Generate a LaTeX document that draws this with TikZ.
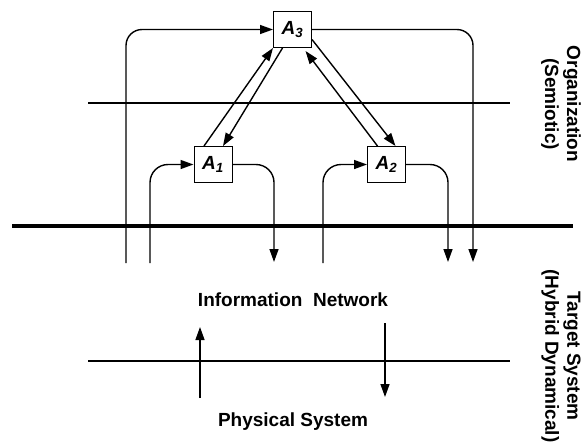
\documentclass[tikz,border=0pt]{standalone}
\usepackage{fontspec}
\setmainfont{Liberation Sans}
\usetikzlibrary{positioning, arrows.meta, calc}

\begin{document}
\begin{tikzpicture}[x=1pt, y=-1pt,
        agent/.style={draw, line width=1pt, fill=white, minimum width=38pt, minimum height=36pt, inner sep=0pt, font=\fontsize{19}{21}\selectfont\bfseries\itshape},
        flow/.style={line width=1.4pt, -{Triangle[length=13pt, width=9pt]}},
        txt/.style={font=\fontsize{19}{22}\selectfont\bfseries}]
        \useasboundingbox (0,0) rectangle (588,445);

        % Layer borders
        \draw[line width=1.2pt] (88,103) -- (510,103);
        \draw[line width=4pt] (12,226) -- (573,226);
        \draw[line width=1.2pt] (88,361) -- (510,361);

        % Agents
        \node[agent] (A3) at (292.5,29.5) {A\textsubscript{3}};
        \node[agent] (A1) at (213,164.5) {A\textsubscript{1}};
        \node[agent] (A2) at (386.5,164.5) {A\textsubscript{2}};

        % Ends in the network
        \coordinate (in3) at (126,263);
        \coordinate (out3) at (473,262);
        \coordinate (in1) at (150,263);
        \coordinate (out1) at (274,262);
        \coordinate (in2) at (323,263);
        \coordinate (out2) at (448,262);

        % Loops
        \draw[flow, rounded corners=16pt] (in3) |- (A3.west);
        \draw[flow, rounded corners=16pt] (A3.east) -| (out3);
        \draw[flow, rounded corners=18pt] (in1) |- (A1.west);
        \draw[flow, rounded corners=18pt] (A1.east) -| (out1);
        \draw[flow, rounded corners=18pt] (in2) |- (A2.west);
        \draw[flow, rounded corners=18pt] (A2.east) -| (out2);

        % Agent links
        \draw[flow] ([xshift=-9pt]A1.north) -- (A3.south west);
        \draw[flow] ([xshift=-10pt]A3.south) -- ([xshift=10pt]A1.north);
        \draw[flow] ([yshift=-10pt]A3.east) -- ([xshift=9pt]A2.north);
        \draw[flow] ([xshift=-9pt]A2.north) -- ([xshift=13pt, yshift=-3pt]A3.south);

        % Target system
        \node[txt] (net) at (293,300) {Information~ Network};
        \node[txt] (phys) at (293,422) {Physical System};
        \coordinate (sense0) at (200,398);
        \coordinate (sense1) at (200,327);
        \coordinate (act0) at (385,323);
        \coordinate (act1) at (385,397);
        \draw[flow] (sense0) -- (sense1);
        \draw[flow] (act0) -- (act1);

        % Side labels
        \node[txt, rotate=-90, align=center] (org) at (561,104) {Organization\\(Semiotic)};
        \node[txt, rotate=-90, align=center] (tgt) at (561,356) {Target System\\(Hybrid Dynamical)};
\end{tikzpicture}
\end{document}
